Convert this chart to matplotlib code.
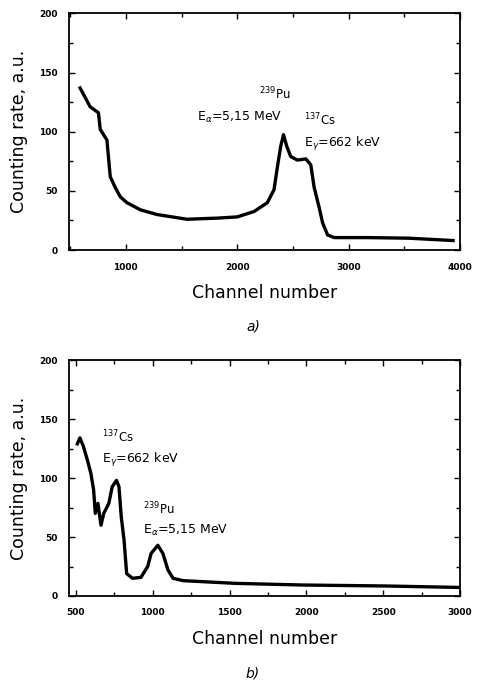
import numpy as np
import matplotlib.pyplot as plt
from matplotlib.ticker import MultipleLocator

# panel a) spectrum
ch_a = [589, 680, 754, 770, 830, 860, 904, 950, 1010, 1130, 1280, 1550, 1830,
        2000, 2150, 2270, 2330, 2360, 2390, 2415, 2445, 2480, 2540, 2616, 2660,
        2690, 2735, 2766, 2811, 2870, 3170, 3540, 3937]
rate_a = [137, 121, 116, 102, 93, 62, 53, 45, 40, 34, 30, 26, 27,
          28, 32.5, 40, 51, 70, 87.6, 97.5, 87.5, 79, 76, 77, 72,
          53, 36, 23, 12.7, 10.5, 10.5, 10, 8]

# panel b) spectrum
ch_b = [509, 526, 548, 575, 597, 615, 626, 643, 663, 681, 714, 736, 764, 780,
        795, 813, 830, 868, 923, 967, 989, 1033, 1066, 1099, 1132, 1198, 1540,
        1980, 2509, 2983]
rate_b = [129, 134, 127, 115, 104, 90, 70, 78.5, 60, 70, 78.5, 92.6, 98, 92.6,
          67, 47.5, 19, 15, 15.8, 25, 36, 43, 36, 22, 15, 13, 10.7,
          9.3, 8.5, 7.3]

xticks_a = [1000, 2000, 3000, 4000]
xticks_b = [500, 1000, 1500, 2000, 2500, 3000]
yticks = [0, 50, 100, 150, 200]

fig = plt.figure(figsize=(4.81, 6.82), dpi=100)
ax1 = fig.add_axes([0.1435, 0.6334, 0.813, 0.347])
ax2 = fig.add_axes([0.1435, 0.1261, 0.813, 0.346])


def style(ax, xlim, xticks, xminor):
    ax.set_xlim(*xlim)
    ax.set_ylim(0, 200)
    ax.set_xticks(xticks)
    ax.set_yticks(yticks)
    ax.xaxis.set_minor_locator(MultipleLocator(xminor))
    ax.yaxis.set_minor_locator(MultipleLocator(25))
    ax.tick_params(which='both', direction='in', top=True, right=True,
                   labelsize=6.5, width=1)
    ax.tick_params(which='major', length=4)
    ax.tick_params(which='minor', length=3)
    ax.tick_params(axis='x', pad=9)
    ax.tick_params(axis='y', pad=8)
    for lab in ax.get_xticklabels() + ax.get_yticklabels():
        lab.set_fontweight('bold')
    for sp in ax.spines.values():
        sp.set_linewidth(1.3)
    ax.set_xlabel('Channel number', fontsize=12.5, labelpad=9)
    ax.set_ylabel('Counting rate, a.u.', fontsize=12.5, labelpad=8)


ax1.plot(ch_a, rate_a, color='black', lw=2.4)
style(ax1, (490, 4000), xticks_a, 500)
ax1.text(2193, 127, r'$^{239}$Pu', fontsize=8.5)
ax1.text(1643, 109, r'E$_\alpha$=5,15 MeV', fontsize=9)
ax1.text(2598, 105, r'$^{137}$Cs', fontsize=8.5)
ax1.text(2598, 87, r'E$_\gamma$=662 keV', fontsize=9)
fig.text(0.526, 0.516, 'a)', fontsize=10, style='italic', ha='center')

ax2.plot(ch_b, rate_b, color='black', lw=2.4)
style(ax2, (455, 3000), xticks_b, 250)
ax2.text(672, 130, r'$^{137}$Cs', fontsize=8.5)
ax2.text(672, 113, r'E$_\gamma$=662 keV', fontsize=9)
ax2.text(935, 69, r'$^{239}$Pu', fontsize=8.5)
ax2.text(935, 53, r'E$_\alpha$=5,15 MeV', fontsize=9)
fig.text(0.526, 0.006, 'b)', fontsize=10, style='italic', ha='center')

plt.savefig('out.png', dpi=100)
